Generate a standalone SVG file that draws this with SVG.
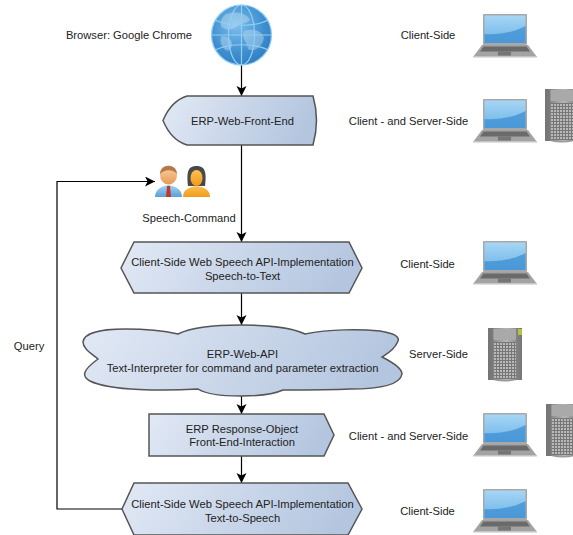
<svg xmlns="http://www.w3.org/2000/svg" xmlns:xlink="http://www.w3.org/1999/xlink" width="573" height="535" viewBox="0 0 573 535">
<style>
text{font-family:"Liberation Sans",Arial,sans-serif;font-size:11.2px;fill:#222;text-anchor:middle}
.shape{fill:url(#nodeFill);stroke:#555;stroke-width:1.5}
.conn{fill:none;stroke:#000;stroke-width:1.2;marker-end:url(#head)}
.globeLine{fill:none;stroke:#8fd0f5;stroke-width:1.2}
.icon{filter:url(#soft)}
</style>
<defs>
<filter id="soft" x="-5%" y="-5%" width="110%" height="110%"><feGaussianBlur stdDeviation="0.45"/></filter>
<linearGradient id="nodeFill" x1="0" y1="0" x2="1" y2="0.15"><stop offset="0" stop-color="#e2e9f5"/><stop offset="1" stop-color="#b4c6df"/></linearGradient>
<marker id="head" markerUnits="userSpaceOnUse" markerWidth="12" markerHeight="12" refX="10" refY="5" orient="auto"><path d="M0,0 L10,5 L0,10 L2.6,5 Z" fill="#000"/></marker>
<radialGradient id="globeFill" cx="0.42" cy="0.35" r="0.7"><stop offset="0" stop-color="#7dbdea"/><stop offset="0.65" stop-color="#3f8fd0"/><stop offset="1" stop-color="#2f7cc0"/></radialGradient>
<linearGradient id="screenFill" x1="0" y1="0" x2="0" y2="1"><stop offset="0" stop-color="#a6d6f5"/><stop offset="1" stop-color="#6db4e6"/></linearGradient>
<linearGradient id="towerFill" x1="0" y1="0" x2="1" y2="0"><stop offset="0" stop-color="#7d7d7d"/><stop offset="0.2" stop-color="#8f8f8f"/><stop offset="0.55" stop-color="#b5b5b5"/><stop offset="1" stop-color="#777"/></linearGradient>
<pattern id="grill" width="3" height="3" patternUnits="userSpaceOnUse"><rect width="3" height="3" fill="#777"/><rect width="2" height="2" fill="#b9b9b9"/></pattern>
<linearGradient id="skin" x1="0" y1="0" x2="0" y2="1"><stop offset="0" stop-color="#fbd3a6"/><stop offset="1" stop-color="#e79a55"/></linearGradient>
<linearGradient id="blueShirt" x1="0" y1="0" x2="0" y2="1"><stop offset="0" stop-color="#a5d3f3"/><stop offset="1" stop-color="#5c9fd8"/></linearGradient>
<linearGradient id="orangeShirt" x1="0" y1="0" x2="0" y2="1"><stop offset="0" stop-color="#fdc04f"/><stop offset="1" stop-color="#f09a1c"/></linearGradient>
<symbol id="laptop" width="64" height="44" viewBox="0 0 64 44" overflow="visible">
<rect x="10" y="0" width="44" height="31" rx="1" fill="#a8a8a8"/>
<rect x="11.5" y="1.5" width="41" height="27.5" fill="url(#screenFill)"/>
<path d="M11.5,20 C25,21 42,18 52.500,12 V29 H11.5 Z" fill="#3f8fd3" opacity=".75"/>
<path d="M9,31 H55 L64,43 H0 Z" fill="#a3a3a3"/>
<path d="M10.500,32.500 H53.500 L57,37.500 H7 Z" fill="#6b6b6b"/>
<rect x="25" y="37.500" width="13" height="4" fill="#757575"/>
<rect x="0" y="42" width="64" height="1.500" fill="#c4c4c4"/>
</symbol>
<symbol id="tower" width="34" height="54" viewBox="0 0 34 54" overflow="visible">
<rect x="0" y="0" width="34" height="52" fill="url(#towerFill)"/>
<rect x="0" y="0" width="5.500" height="52" fill="#6f6f6f" opacity=".6"/>
<rect x="28" y="0" width="6" height="52" fill="#777" opacity=".5"/>
<rect x="5.500" y="1" width="22.500" height="11" fill="#a9a9a9"/>
<rect x="6" y="14" width="22" height="37" fill="url(#grill)"/>
<path d="M5,52 Q17,55 29,52 Z" fill="#9a9a9a"/>
</symbol>
</defs>

<g id="connectors">
<path class="conn" d="M241.500,65 V96"/>
<path class="conn" d="M241.500,145 V242"/>
<path class="conn" d="M241.500,293 V325"/>
<path class="conn" d="M241.500,396 V414"/>
<path class="conn" d="M241.500,456 V483"/>
<path class="conn" d="M122,509 H57 V181.500 H155"/>
</g>

<g id="globe" class="icon">
<circle cx="241.500" cy="35" r="30" fill="url(#globeFill)"/>
<path d="M226,14 C236,10 248,14 250,20 C246,25 240,22 236,27 C231,31 224,30 221,26 C220,21 222,17 226,14 Z M244,31 C252,28 262,30 264,38 C262,47 254,53 248,49 C247,42 241,38 244,31 Z M222,36 C228,36 233,40 232,46 C230,52 226,52 222,46 C220,42 220,38 222,36 Z" fill="#cfe6f6" opacity=".4"/>
<g class="globeLine">
<path d="M211,35 H272"/>
<ellipse cx="241.500" cy="35" rx="30" ry="30"/>
<ellipse cx="241.500" cy="35" rx="13" ry="30"/>
<path d="M241.500,5 V65"/>
<path d="M215,20 C230,27 255,27 268,20"/>
<path d="M215,50 C230,43 255,43 268,50"/>
</g>
</g>

<g id="front-end">
<path class="shape" d="M187,96 H313 Q320,120 313,145 H187 Q171,140 163,120.500 Q171,101 187,96 Z"/>
<text x="242.500" y="125">ERP-Web-Front-End</text>
</g>

<g id="users" class="icon">
<path d="M155,197 C155,189 162,186 168.500,185 C175,186 182,189 182,197 Z" fill="url(#blueShirt)"/>
<path d="M167,186 H170 L171,197 H166 Z" fill="#c0392b"/>
<ellipse cx="168.500" cy="175" rx="8.500" ry="9.500" fill="url(#skin)"/>
<path d="M160,174 C160,163 177,163 177,174 C173,169 165,169 160,174 Z" fill="#b47a48"/>
<path d="M183,197 C183,189 190,187 196.500,186 C203,187 210,189 210,197 Z" fill="url(#orangeShirt)"/>
<path d="M188,186 C186,170 189,166 196.500,166 C204,166 207,170 205,186 Z" fill="#4a4a4a"/>
<ellipse cx="196.500" cy="178" rx="6" ry="8" fill="url(#orangeShirt)"/>
</g>

<g id="speech-to-text">
<path class="shape" d="M134,242 H349 L362,268 L349,293 H134 L121,268 Z"/>
<text x="242.500" y="266">Client-Side Web Speech API-Implementation</text>
<text x="242.500" y="280">Speech-to-Text</text>
</g>

<g id="web-api">
<path class="shape" d="M98,359 C92,354 83,349 83,342 C84,332 105,329 125,329 C145,329 165,331 178,334 C190,328 215,325 241,325 C267,325 293,328 305,334 C330,329 360,329 380,331 C392,333 402,336 397,343 C394,350 388,353 382,357 C392,362 402,368 402,374 C400,386 375,389 350,389 C330,390 305,390 283,390 C272,395 255,396 241,396 C225,396 207,395 198,389 C165,391 110,391 90,381 C81,376 83,370 98,359 Z"/>
<text x="242.500" y="358">ERP-Web-API</text>
<text x="242.500" y="372">Text-Interpreter for command and parameter extraction</text>
</g>

<g id="response-object">
<path class="shape" d="M149,414 H324 L334,435 L324,456 H149 Z"/>
<text x="242" y="433">ERP Response-Object</text>
<text x="242" y="446">Front-End-Interaction</text>
</g>

<g id="text-to-speech">
<path class="shape" d="M134,483 H348 L362,509 L348,535 H134 L122,509 Z"/>
<text x="242.500" y="508">Client-Side Web Speech API-Implementation</text>
<text x="242.500" y="522">Text-to-Speech</text>
</g>

<g id="labels">
<text x="129" y="39">Browser: Google Chrome</text>
<text x="428" y="39">Client-Side</text>
<text x="408.500" y="125">Client - and Server-Side</text>
<text x="189" y="222">Speech-Command</text>
<text x="427.500" y="268">Client-Side</text>
<text x="29" y="350">Query</text>
<text x="438.500" y="358">Server-Side</text>
<text x="408.500" y="440">Client - and Server-Side</text>
<text x="427.500" y="515">Client-Side</text>
</g>

<g id="laptop-1" class="icon"><use xlink:href="#laptop" href="#laptop" x="473" y="14"/></g>
<g id="laptop-2" class="icon"><use xlink:href="#laptop" href="#laptop" x="473" y="99"/></g>
<g id="server-1" class="icon"><use xlink:href="#tower" href="#tower" x="545" y="89"/></g>
<g id="laptop-3" class="icon"><use xlink:href="#laptop" href="#laptop" x="473" y="241"/></g>
<g id="server-2" class="icon"><use xlink:href="#tower" href="#tower" x="488" y="328"/><rect x="518" y="329" width="4" height="6" fill="#b5c23a"/></g>
<g id="laptop-4" class="icon"><use xlink:href="#laptop" href="#laptop" x="473" y="413"/></g>
<g id="server-3" class="icon"><use xlink:href="#tower" href="#tower" x="546" y="404"/></g>
<g id="laptop-5" class="icon"><use xlink:href="#laptop" href="#laptop" x="473" y="489"/></g>
</svg>
